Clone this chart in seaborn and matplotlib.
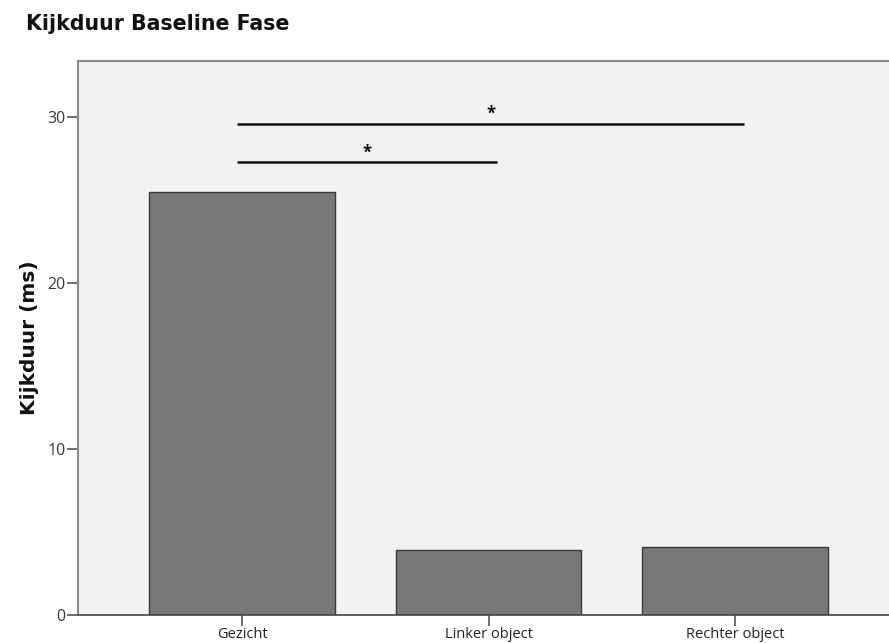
import matplotlib
matplotlib.use("Agg")
import matplotlib.pyplot as plt
import seaborn as sns
import pandas as pd

categories = ["Gezicht", "Linker object", "Rechter object"]
values = [25.5, 3.9, 4.1]
yticks = [0, 10, 20, 30]
# significance brackets: (from category index, to category index, height)
sig_pairs = [(0, 1, 27.3), (0, 2, 29.6)]

sns.set_theme(style="white")
plt.rcParams["font.family"] = ["Open Sans", "DejaVu Sans"]

fig = plt.figure(figsize=(8.89, 6.43), dpi=100)
ax = fig.add_axes([78 / 889, 1 - 615 / 643, 1 - 78 / 889 + 0.01, (615 - 61) / 643])
ax.set_facecolor("#f2f2f2")

df = pd.DataFrame({"cat": categories, "val": values})
sns.barplot(data=df, x="cat", y="val", color="#787878", saturation=1,
            width=0.753, edgecolor="#3a3a3a", linewidth=1.0, ax=ax)

ax.set_xlim(-0.666, 2.66)
ax.set_ylim(0, 33.4)
ax.set_yticks(yticks)
ax.set_yticklabels([str(t) for t in yticks], fontsize=11.5, color="#3a3a3a")
ax.set_xticks(range(len(categories)))
ax.set_xticklabels(categories, fontsize=10.5, color="#222222")
ax.tick_params(axis="both", length=8, width=1.2, color="#555555", pad=1,
               bottom=True, left=True)

for side in ["left", "top", "right"]:
    ax.spines[side].set_color("#8a8a8a")
    ax.spines[side].set_linewidth(1.5)
ax.spines["bottom"].set_color("#444444")
ax.spines["bottom"].set_linewidth(1.2)

for i0, i1, h in sig_pairs:
    x0 = i0 - 0.02
    x1 = i1 + 0.035
    ax.plot([x0, x1], [h, h], color="#111111", lw=1.8, solid_capstyle="butt")
    ax.text((x0 + x1) / 2, h + 0.05, "*", ha="center", va="bottom",
            fontsize=12, fontweight="bold", color="#111111")

ax.set_xlabel("")
ax.set_ylabel("Kijkduur (ms)", fontsize=14.5, fontweight="bold", color="#111111",
              family="DejaVu Sans", labelpad=6)

fig.text(26 / 889, 1 - 24 / 643, "Kijkduur Baseline Fase", fontsize=14.8,
         fontweight="bold", color="#111111", family="DejaVu Sans",
         ha="left", va="center")

fig.savefig("out.png", dpi=100, facecolor="white")
